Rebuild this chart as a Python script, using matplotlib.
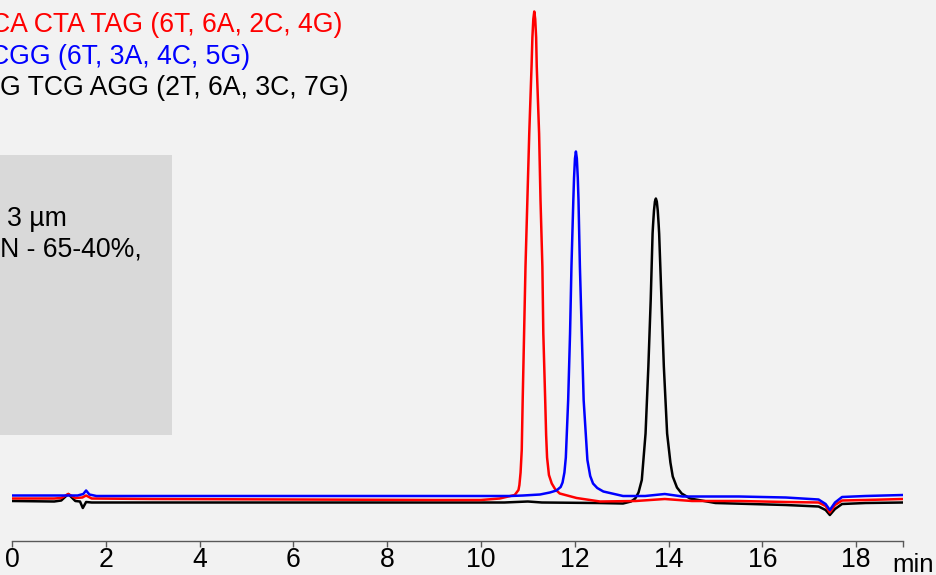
import matplotlib
matplotlib.use("Agg")
import matplotlib.pyplot as plt
from matplotlib.patches import Rectangle

plt.rcParams['font.family'] = ['Liberation Sans', 'DejaVu Sans']

# ---- data (time in min, signal in arbitrary units) ----
red_t = [0, 0.9, 1.05, 1.2, 1.35, 1.5, 1.58, 1.7, 3, 6, 9, 10.0, 10.4, 10.72, 10.80,
         10.82, 10.845, 10.87, 10.89, 10.92, 10.95, 10.99, 11.03, 11.08, 11.097, 11.117,
         11.137, 11.157, 11.177, 11.19, 11.24, 11.27, 11.31, 11.33, 11.37, 11.39, 11.41,
         11.45, 11.51, 11.58, 11.68, 12.04, 12.54, 13.3, 13.92, 14.5,
         15.5, 16.5, 17.2, 17.35, 17.44, 17.55, 17.7, 18.2, 19.0]
red_v = [3, 3, 4, 12, 4, 5, 9, 3, 2, 1, 0, 0, 3, 10, 20,
         30, 55, 100, 200, 333, 467, 600, 733, 870, 925, 962,
         977, 962, 925, 867, 733, 600, 467, 333, 200, 130, 85,
         50, 33, 22, 13, 4, -3, -2, 2, -2,
         -2, -4, -5, -12, -25, -10, -1, 0, 2]

blue_t = [0, 1.4, 1.52, 1.58, 1.65, 1.8, 5, 9, 10.62, 10.9, 11.26, 11.47, 11.61,
          11.70, 11.74, 11.78, 11.81, 11.86, 11.90, 11.93, 11.97, 11.985, 12.005,
          12.025, 12.045, 12.065, 12.08, 12.11, 12.15, 12.19, 12.27, 12.33, 12.39,
          12.48, 12.61, 13.03, 13.5, 13.92, 14.3, 15.5, 16.5, 17.2, 17.35,
          17.44, 17.55, 17.7, 18.2, 19.0]
blue_v = [9, 9, 12, 19, 11, 8, 8, 8, 8, 9, 11, 15, 19,
          26, 35, 55, 85, 200, 333, 467, 600, 644, 683,
          697, 683, 644, 600, 467, 333, 200, 80, 48, 33,
          24, 17, 8, 8, 12, 7, 7, 5, 1, -8,
          -20, -5, 6, 8, 10]

black_t = [0, 0.9, 1.05, 1.2, 1.35, 1.45, 1.51, 1.58, 1.7, 2.5, 6, 10.5, 11.0, 11.3,
           12.5, 13.03, 13.2, 13.29, 13.36, 13.43, 13.51, 13.57, 13.62, 13.66, 13.67,
           13.69, 13.71, 13.73, 13.75, 13.77, 13.79, 13.80, 13.85, 13.90, 13.97, 14.04,
           14.09, 14.18, 14.28, 14.46, 15.0, 16.5, 17.2, 17.35, 17.44, 17.55,
           17.7, 18.2, 19.0]
black_v = [-2, -3, -1, 12, -2, -3, -16, -4, -5, -5, -5, -5, -3, -5,
           -6, -7, -3, 3, 15, 40, 133, 267, 400, 533, 550,
           579, 597, 603, 597, 579, 550, 533, 400, 267, 133, 75,
           47, 25, 13, 3, -6, -10, -13, -20, -30, -18,
           -8, -6, -5]

x_ticks = [0, 2, 4, 6, 8, 10, 12, 14, 16, 18, 19]
x_tick_labels = ['0', '2', '4', '6', '8', '10', '12', '14', '16', '18', '']

red_label = "CA CTA TAG (6T, 6A, 2C, 4G)"
blue_label = "CGG (6T, 3A, 4C, 5G)"
black_label = "G TCG AGG (2T, 6A, 3C, 7G)"
box_lines = ["3 µm", "CN - 65-40%,"]

# ---- figure ----
W, H = 937, 575
fig = plt.figure(figsize=(W / 100, H / 100), dpi=100)
fig.patch.set_facecolor('#f2f2f2')

def fx(px):
    return px / W

def fy(py):
    return 1 - py / H

# grey box
fig.patches.append(Rectangle((fx(0), fy(435)), fx(172), 280 / H,
                             transform=fig.transFigure, facecolor='#d9d9d9',
                             edgecolor='none', zorder=0))

ax = fig.add_axes([fx(12), fy(541), fx(903) - fx(12), 541 / H])
ax.set_facecolor('none')
lw = 1.8
ax.plot(black_t, black_v, color='#000000', lw=lw, solid_joinstyle='round')
ax.plot(red_t, red_v, color='#ff0000', lw=lw, solid_joinstyle='round')
ax.plot(blue_t, blue_v, color='#0000ff', lw=lw, solid_joinstyle='round')

ax.set_xlim(0, 19)
ax.set_ylim(-82, 1000)
for s in ['left', 'top', 'right']:
    ax.spines[s].set_visible(False)
ax.spines['bottom'].set_color('#595959')
ax.spines['bottom'].set_linewidth(1.0)
ax.set_yticks([])
ax.set_xticks(x_ticks)
ax.set_xticklabels(x_tick_labels)
fs = 19.2
ax.tick_params(axis='x', direction='out', length=4, width=1.0, color='#595959',
               labelsize=fs, pad=0.5, labelcolor='black')

fig.text(fx(934), fy(572), 'min', fontsize=18.5, ha='right', va='baseline')

fig.text(fx(342), fy(32), red_label, color='#ff0000', fontsize=fs, ha='right', va='baseline')
fig.text(fx(250), fy(64), blue_label, color='#0000ff', fontsize=fs, ha='right', va='baseline')
fig.text(fx(349), fy(95), black_label, color='#000000', fontsize=fs, ha='right', va='baseline')

fig.text(fx(67), fy(226), box_lines[0], color='black', fontsize=fs, ha='right', va='baseline')
fig.text(fx(142), fy(256), box_lines[1], color='black', fontsize=fs, ha='right', va='baseline')

fig.savefig('out.png', dpi=100, facecolor=fig.get_facecolor())
